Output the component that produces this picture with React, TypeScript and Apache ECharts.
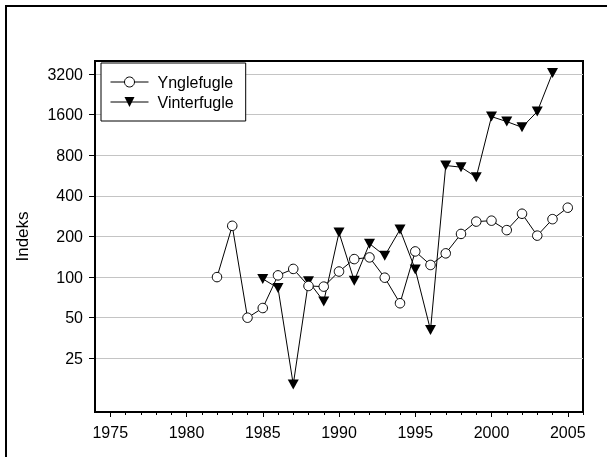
import React, { useEffect, useRef } from 'react';
import * as echarts from 'echarts';

// Breeding birds (Ynglefugle)
const yngleYears = [1982, 1983, 1984, 1985, 1986, 1987, 1988, 1989, 1990, 1991, 1992, 1993, 1994, 1995, 1996, 1997, 1998, 1999, 2000, 2001, 2002, 2003, 2004, 2005];
const yngleValues = [100, 240, 50, 59, 103, 115, 86, 85, 110, 136, 140, 99, 64, 155, 123, 150, 209, 258, 262, 223, 295, 203, 269, 327];

// Wintering birds (Vinterfugle)
const vinterYears = [1985, 1986, 1987, 1988, 1989, 1990, 1991, 1992, 1993, 1994, 1995, 1996, 1997, 1998, 1999, 2000, 2001, 2002, 2003, 2004];
const vinterValues = [97, 83, 16, 93, 66, 214, 94, 177, 144, 225, 114, 40.5, 672, 653, 551, 1548, 1422, 1290, 1686, 3256];

// Axis ticks
const yTickLabels = [25, 50, 100, 200, 400, 800, 1600, 3200];
const xMajorTicks = [1975, 1980, 1985, 1990, 1995, 2000, 2005];
const xMinorTicks = [1975, 1976, 1977, 1978, 1979, 1980, 1981, 1982, 1983, 1984, 1985, 1986, 1987, 1988, 1989, 1990, 1991, 1992, 1993, 1994, 1995, 1996, 1997, 1998, 1999, 2000, 2001, 2002, 2003, 2004, 2005, 2006];
const xMin = 1974;
const xMax = 2006;
const yMin = 10;
const yMax = 4000;

const BASE = 25;
const toLog = (v: number) => Math.log2(v / BASE);
const FONT = '"Liberation Sans", Arial, sans-serif';

export default function App() {
  const ref = useRef<HTMLDivElement>(null);
  useEffect(() => {
    const chart = echarts.init(ref.current!, null, { renderer: 'svg' });
    chart.setOption({
      animation: false,
      textStyle: { fontFamily: FONT },
      graphic: [
        {
          type: 'rect',
          silent: true,
          z: -10,
          shape: { x: 6, y: 6, width: 800, height: 800 },
          style: { fill: 'none', stroke: '#000', lineWidth: 2 },
        },
      ],
      grid: {
        left: 95,
        top: 61,
        right: 24,
        bottom: 45,
        show: true,
        borderColor: '#000',
        borderWidth: 2,
        backgroundColor: 'transparent',
        containLabel: false,
      },
      legend: {
        data: ['Ynglefugle', 'Vinterfugle'],
        orient: 'vertical',
        left: 101,
        top: 63,
        padding: [11, 12, 11, 9],
        itemGap: 4,
        itemWidth: 38,
        itemHeight: 12.5,
        backgroundColor: '#fff',
        borderColor: '#000',
        borderWidth: 1,
        borderRadius: 0,
        lineStyle: { width: 1 },
        itemStyle: { borderWidth: 1 },
        textStyle: { fontSize: 16, color: '#000', fontFamily: FONT, padding: [0, 0, 0, 4] },
      },
      xAxis: [
        {
          type: 'value',
          min: xMin,
          max: xMax,
          axisLine: { show: true, onZero: false, lineStyle: { color: '#000', width: 2 } },
          axisTick: { show: true, customValues: xMajorTicks, length: 5, lineStyle: { color: '#000', width: 1 } },
          axisLabel: {
            customValues: xMajorTicks,
            formatter: (v: number) => String(v),
            fontSize: 16,
            color: '#000',
            margin: 12,
            fontFamily: FONT,
          },
          splitLine: { show: false },
        },
        {
          type: 'value',
          min: xMin,
          max: xMax,
          position: 'bottom',
          axisLine: { show: false, onZero: false },
          axisTick: { show: true, customValues: xMinorTicks, length: 3, lineStyle: { color: '#000', width: 1 } },
          axisLabel: { show: false },
          splitLine: { show: false },
        },
      ],
      yAxis: {
        type: 'value',
        min: toLog(yMin),
        max: toLog(yMax),
        name: 'Indeks',
        nameLocation: 'middle',
        nameGap: 64,
        nameTextStyle: { fontSize: 17, color: '#000', fontFamily: FONT },
        axisLine: { show: true, onZero: false, lineStyle: { color: '#000', width: 2 } },
        axisTick: { show: true, customValues: yTickLabels.map(toLog), length: 6, lineStyle: { color: '#000', width: 1 } },
        axisLabel: {
          customValues: yTickLabels.map(toLog),
          formatter: (v: number) => String(Math.round(BASE * Math.pow(2, v))),
          fontSize: 16,
          color: '#000',
          margin: 12,
          fontFamily: FONT,
        },
        splitLine: { show: true, lineStyle: { color: '#c4c4c4', width: 1.2 } },
      },
      series: [
        {
          name: 'Vinterfugle',
          type: 'line',
          z: 2,
          data: vinterYears.map((y, i) => [y, toLog(vinterValues[i])]),
          symbol: 'path://M0 0L20 0L10 18Z',
          symbolSize: [11, 10],
          symbolKeepAspect: false,
          itemStyle: { color: '#000', borderWidth: 0 },
          lineStyle: { color: '#000', width: 1 },
        },
        {
          name: 'Ynglefugle',
          type: 'line',
          z: 3,
          data: yngleYears.map((y, i) => [y, toLog(yngleValues[i])]),
          symbol: 'circle',
          symbolSize: 9.5,
          itemStyle: { color: '#fff', borderColor: '#000', borderWidth: 1 },
          lineStyle: { color: '#000', width: 1 },
        },
      ],
    });
    return () => chart.dispose();
  }, []);
  return <div ref={ref} style={{ position: 'fixed', left: 0, top: 0, width: 607, height: 457 }} />;
}
